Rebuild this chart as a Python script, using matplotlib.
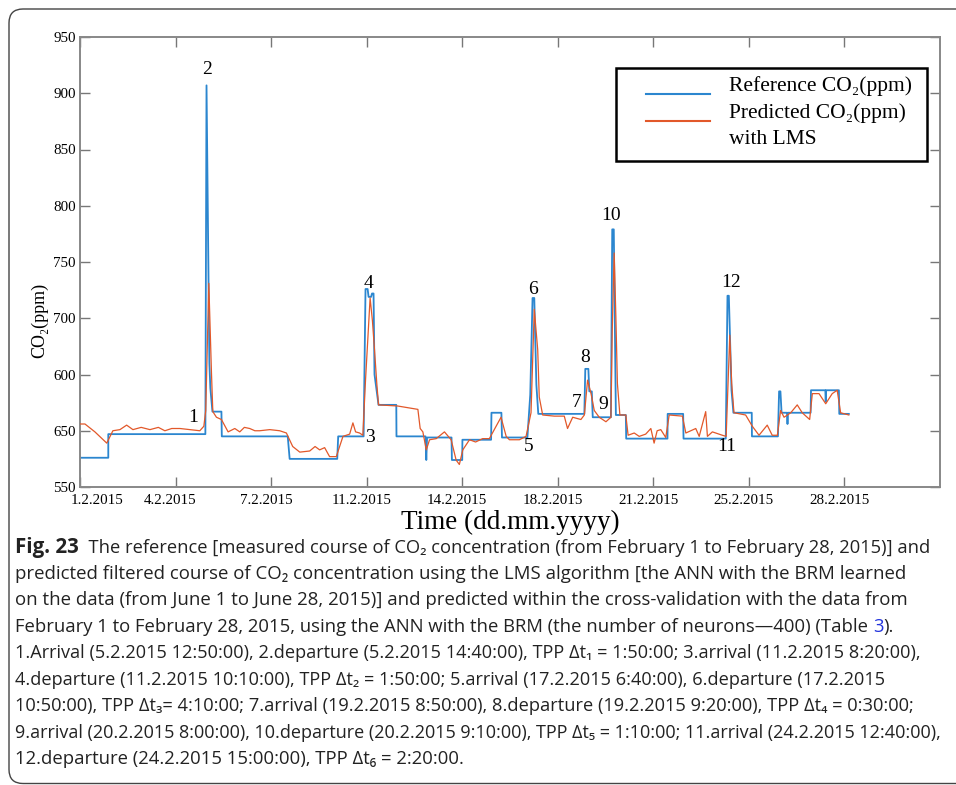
import matplotlib
matplotlib.use("Agg")
import matplotlib.pyplot as plt
import matplotlib.patches as mpatches
from matplotlib.lines import Line2D
from matplotlib.transforms import IdentityTransform, ScaledTranslation

# Reference CO2 course (sample index of 10-min samples, ppm)
ref_idx = [0, 148, 148, 656, 662, 677, 682, 693, 740, 742, 1087, 1097, 1346, 1351,
           1484, 1494, 1505, 1510, 1523, 1528, 1536, 1541, 1562, 1655, 1656, 1808,
           1812, 1816, 1944, 1946, 2000, 2001, 2151, 2153, 2205, 2208, 2341, 2356,
           2368, 2377, 2388, 2398, 2639, 2644, 2660, 2665, 2678, 2683, 2778, 2785,
           2793, 2804, 2856, 2858, 3074, 3075, 3156, 3158, 3379, 3388, 3395, 3409,
           3419, 3515, 3516, 3652, 3658, 3665, 3671, 3700, 3702, 3704, 3823, 3825,
           3900, 3902, 3904, 3971, 3973, 4023]
ref_val = [576, 576, 597, 597, 907, 660, 638, 617, 617, 595, 595, 575, 575, 595,
           595, 726, 726, 719, 719, 722, 722, 650, 623, 623, 595, 595,
           574, 594, 594, 574, 574, 592, 592, 616, 616, 594, 594, 632,
           718, 718, 641, 615, 615, 655, 655, 635, 635, 612, 612, 779,
           779, 614, 614, 593, 593, 615, 615, 593, 593, 720, 720, 636,
           616, 616, 595, 595, 635, 635, 616, 616, 606, 616, 616, 636,
           636, 626, 636, 636, 615, 615]

# Predicted CO2 course with LMS
pred_idx = [0, 26, 78, 140, 172, 209, 244, 277, 320, 366, 410, 444, 480, 523, 575,
            627, 648, 658, 674, 688, 695, 714, 740, 775, 810, 836, 860, 888, 915,
            940, 993, 1045, 1080, 1113, 1150, 1202, 1230, 1254, 1280, 1306, 1341,
            1376, 1411, 1428, 1442, 1463, 1480, 1494, 1518, 1530, 1541, 1553, 1562,
            1662, 1768, 1780, 1794, 1812, 1829, 1864, 1907, 1942, 1968, 1985, 2003,
            2038, 2070, 2107, 2142, 2177, 2203, 2230, 2247, 2299, 2334, 2360, 2377,
            2395, 2403, 2421, 2482, 2534, 2551, 2578, 2621, 2639, 2656, 2674, 2691,
            2717, 2752, 2778, 2785, 2795, 2804, 2812, 2825, 2856, 2868, 2900, 2926,
            2960, 2987, 3004, 3020, 3039, 3065, 3083, 3152, 3170, 3222, 3240, 3274,
            3283, 3309, 3361, 3381, 3400, 3410, 3422, 3483, 3518, 3553, 3596, 3622,
            3649, 3666, 3684, 3719, 3753, 3779, 3818, 3832, 3867, 3902, 3936, 3962,
            3980, 4023]
pred_val = [606, 606, 599, 589, 600, 601, 605, 601, 603, 601, 603, 600, 602, 602, 601,
            600, 604, 618, 731, 651, 617, 612, 610, 599, 602, 599, 603, 602, 600,
            600, 601, 600, 598, 586, 581, 582, 586, 583, 585, 577, 577,
            595, 597, 607, 599, 598, 596, 645, 718, 698, 672, 642, 623,
            622, 619, 602, 599, 583, 592, 593, 599, 592, 574, 570, 583,
            592, 590, 593, 593, 604, 612, 595, 592, 592, 595, 616, 708,
            672, 630, 614, 613, 613, 602, 612, 610, 614, 645, 633, 618,
            612, 608, 612, 690, 758, 701, 642, 614, 614, 596, 598, 595,
            597, 602, 589, 600, 601, 594, 614, 613, 598, 602, 595, 617,
            595, 599, 596, 595, 685, 642, 616, 614, 604, 596, 605, 596,
            596, 618, 612, 616, 623, 616, 610, 633, 633, 624, 633, 636,
            616, 614]

x_ticks = [0, 500, 1000, 1500, 2000, 2500, 3000, 3500, 4000]
x_labels = ["1.2.2015", "4.2.2015", "7.2.2015", "11.2.2015", "14.2.2015",
            "18.2.2015", "21.2.2015", "25.2.2015", "28.2.2015"]
y_ticks = [550, 600, 650, 700, 750, 800, 850, 900, 950]
y_labels = ["550", "650", "600", "700", "750", "800", "850", "900", "950"]

# event numbers (text anchor positions)
ev_labels = ["1", "2", "3", "4", "5", "6", "7", "8", "9", "10", "11", "12"]
ev_x = [590, 664, 1515, 1510, 2346, 2372, 2597, 2644, 2738, 2780, 3386, 3407]
ev_y = [612, 921, 594, 731, 586, 726, 625, 665, 623, 791, 586, 732]

BLUE = "#2b86cf"
ORANGE = "#e2582a"
serif = ["Liberation Serif", "DejaVu Serif"]
sans = ["Open Sans", "DejaVu Sans"]

fig = plt.figure(figsize=(9.56, 7.85), dpi=100)
ax = fig.add_axes([80 / 956, 1 - 487 / 785, 860 / 956, 450 / 785])

ax.plot(ref_idx, ref_val, color=BLUE, lw=1.3, zorder=2)
ax.plot(pred_idx, pred_val, color=ORANGE, lw=0.9, zorder=3)

ax.set_xlim(0, 4500)
ax.set_ylim(550, 950)
ax.set_xticks(x_ticks)
ax.set_xticklabels(x_labels)
ax.set_yticks(y_ticks)
ax.set_yticklabels(y_labels)
ax.tick_params(direction="in", length=7, width=1, color="#777777",
               top=True, right=True, labelsize=10.8, labelcolor="black")
ax.tick_params(axis="x", pad=5)
ax.tick_params(axis="y", pad=3)
for lab in ax.get_xticklabels() + ax.get_yticklabels():
    lab.set_family(serif)
# x labels sit a little left of their ticks; the first one is pushed right
for i, lab in enumerate(ax.get_xticklabels()):
    dx = 17 if i == 0 else -5
    lab.set_transform(lab.get_transform() + ScaledTranslation(dx / 100, 0, fig.dpi_scale_trans))
for sp in ax.spines.values():
    sp.set_color("#888888")
    sp.set_linewidth(1.4)

ax.set_xlabel("Time (dd.mm.yyyy)", family=serif, fontsize=19.5, labelpad=2, color="black")
ax.set_ylabel("CO\u2082(ppm)", family=serif, fontsize=13, color="black")
ax.yaxis.set_label_coords(-32 / 860, (487 - 320) / 450)

for t, x, y in zip(ev_labels, ev_x, ev_y):
    ax.text(x, y, t, family=serif, fontsize=14, ha="center", va="center", color="black")

# legend box drawn by hand
ax.add_patch(mpatches.Rectangle((616, 785 - 161), 311, 93, transform=IdentityTransform(),
                                fill=False, ec="black", lw=1.8, zorder=5))
fig.add_artist(Line2D([646 / 956, 710 / 956], [1 - 94 / 785] * 2, color=BLUE, lw=1.5))
fig.add_artist(Line2D([646 / 956, 710 / 956], [1 - 121 / 785] * 2, color=ORANGE, lw=1.5))
for txt, y in [("Reference CO\u2082(ppm)", 86), ("Predicted CO\u2082(ppm)", 113), ("with LMS", 140)]:
    fig.text(729 / 956, 1 - y / 785, txt, family=serif, fontsize=15.5,
             va="center", color="black")

# rounded outer frame
fig.add_artist(mpatches.FancyBboxPatch((9, 1.5), 1100, 774.5, transform=IdentityTransform(),
                                       boxstyle="round,pad=0,rounding_size=14",
                                       fill=False, ec="#444444", lw=1.0))

# caption
cap = [
    [("Fig. 23", "bold", "#222222"),
     ("  The reference [measured course of CO\u2082 concentration (from February 1 to February 28, 2015)] and", "normal", "#222222")],
    [("predicted filtered course of CO\u2082 concentration using the LMS algorithm [the ANN with the BRM learned", "normal", "#222222")],
    [("on the data (from June 1 to June 28, 2015)] and predicted within the cross-validation with the data from", "normal", "#222222")],
    [("February 1 to February 28, 2015, using the ANN with the BRM (the number of neurons\u2014400) (Table ", "normal", "#222222"),
     ("3", "normal", "#2233dd"), (").", "normal", "#222222")],
    [("1.Arrival (5.2.2015 12:50:00), 2.departure (5.2.2015 14:40:00), TPP \u0394t\u2081 = 1:50:00; 3.arrival (11.2.2015 8:20:00),", "normal", "#222222")],
    [("4.departure (11.2.2015 10:10:00), TPP \u0394t\u2082 = 1:50:00; 5.arrival (17.2.2015 6:40:00), 6.departure (17.2.2015", "normal", "#222222")],
    [("10:50:00), TPP \u0394t\u2083= 4:10:00; 7.arrival (19.2.2015 8:50:00), 8.departure (19.2.2015 9:20:00), TPP \u0394t\u2084 = 0:30:00;", "normal", "#222222")],
    [("9.arrival (20.2.2015 8:00:00), 10.departure (20.2.2015 9:10:00), TPP \u0394t\u2085 = 1:10:00; 11.arrival (24.2.2015 12:40:00),", "normal", "#222222")],
    [("12.departure (24.2.2015 15:00:00), TPP \u0394t\u2086 = 2:20:00.", "normal", "#222222")],
]
cap_y = [548, 574, 600, 627, 653, 680, 706, 733, 759]
cap_right = [925, 901, 904, 891, 913, 881, 913, 940, 463]   # right end of each line in the reference

fig.canvas.draw()
renderer = fig.canvas.get_renderer()
for line, y, right in zip(cap, cap_y, cap_right):
    # first pass: measure at the base size, then scale so the line ends where it does in the reference
    width = 0.0
    for txt, w, c in line:
        size = 14.8 if w == "bold" else 13.0
        t = fig.text(0, 0, txt, family=sans, fontsize=size, fontweight=w)
        width += t.get_window_extent(renderer).width
        t.remove()
    k = min((right - 15) / width, 1.04)
    x = 15.0
    for txt, w, c in line:
        size = 14.8 if w == "bold" else 13.0 * k
        t = fig.text(x / 956, 1 - y / 785, txt, family=sans, fontsize=size,
                     fontweight=w, color=c, va="center")
        x += t.get_window_extent(renderer).width

fig.savefig("out.png", dpi=100)
